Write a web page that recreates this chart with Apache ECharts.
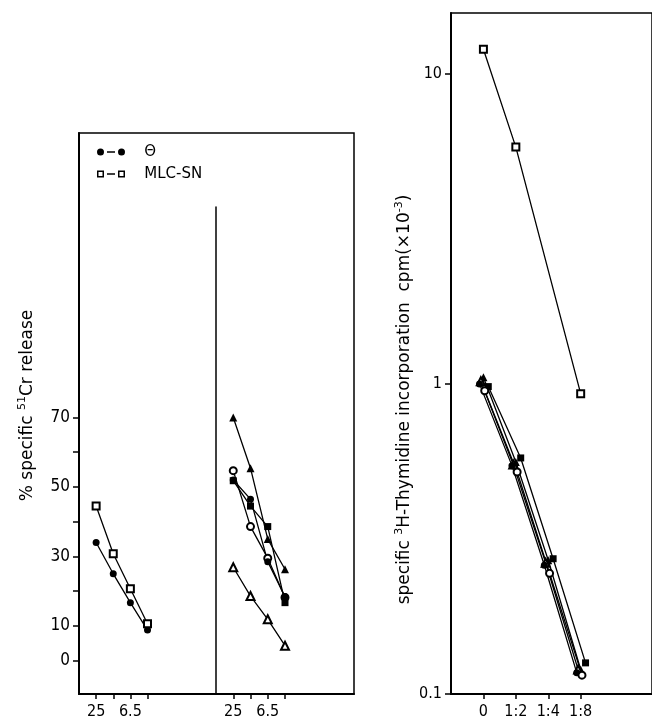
<!DOCTYPE html>
<html>
<head>
<meta charset="utf-8">
<script src="https://cdn.jsdelivr.net/npm/echarts@6/dist/echarts.min.js"></script>
<style>
  html, body { margin: 0; padding: 0; background: #fff; }
  #chart { width: 652px; height: 721px; }
</style>
</head>
<body>
<div id="chart"></div>
<script>
// E:T ratios (left panels) and dilutions (right panel)
const ratios = ['25', '12.5', '6.5', '3.1'];
const ratioLabelIdx = [0, 2];
const dilutions = ['0', '1:2', '1:4', '1:8'];
const crTicks = [0, 10, 20, 30, 40, 50, 60, 70];
const crLabels = [0, 10, 30, 50, 70];

// panel A: % specific 51Cr release
const thetaA = [34, 25, 16.7, 8.8];
const mlcA = [44.5, 30.8, 20.7, 10.6];

// panel B
const filledTriB = [70, 55.4, 35, 26.3];
const openCircB = [54.7, 38.6, 29.5, 18.2];
const filledSqB = [51.8, 44.5, 38.6, 16.7];
const filledCircB = [52, 46.5, 28.5, 18.4];
const openTriB = [26.9, 18.6, 11.9, 4.3];

// panel C: 3H-thymidine cpm (x10^-3)
const mlcC = [12, 5.8, null, 0.93];
const filledSqC = [0.98, 0.577, 0.273, 0.126];
const filledTriC = [1.05, 0.56, 0.27, 0.12];
const openTriC = [1.02, 0.55, 0.265, 0.12];
const filledCircC = [1.0, 0.545, 0.26, 0.117];
const openCircC = [0.95, 0.52, 0.245, 0.115];

const FONT = '"DejaVu Sans Condensed", "DejaVu Sans", sans-serif';
const WIDE = '"DejaVu Sans", sans-serif';
const BLACK = '#000';

function line(name, vals, symbol, grid, shift, size) {
    const data = [];
    vals.forEach((v, i) => { if (v != null) data.push([i + (shift || 0), v]); });
    return {
        name: name,
        type: 'line',
        xAxisIndex: grid,
        yAxisIndex: grid,
        data: data,
        symbol: symbol,
        symbolSize: size || 7,
        showSymbol: true,
        color: BLACK,
        itemStyle: { color: BLACK, borderWidth: 1.5 },
        lineStyle: { color: BLACK, width: 1.3 },
        z: 3
    };
}

function ratioAxis(grid) {
    return {
        gridIndex: grid, type: 'value', min: -1, max: 7,
        splitLine: { show: false },
        axisLine: { onZero: false, lineStyle: { color: BLACK, width: 2 } },
        axisTick: { customValues: [0, 1, 2, 3], length: 5, lineStyle: { color: BLACK, width: 1.5 } },
        axisLabel: {
            customValues: ratioLabelIdx, formatter: v => ratios[v],
            color: BLACK, fontSize: 16, fontFamily: FONT, margin: 10
        }
    };
}

const supStyle = { fontSize: 11, lineHeight: 8, verticalAlign: 'top', fontFamily: WIDE, color: BLACK };

const filledDots = 'path://M0,4A3.5,3.5 0 1,0 7,4A3.5,3.5 0 1,0 0,4Z M10,3.3H18V4.7H10Z M21,4A3.5,3.5 0 1,0 28,4A3.5,3.5 0 1,0 21,4Z';
const openSquares = 'path://M0,0.5H7V7.5H0Z M1.5,2V6H5.5V2Z M10,3.3H18V4.7H10Z M21,0.5H28V7.5H21Z M22.5,2V6H26.5V2Z';

const chart = echarts.init(document.getElementById('chart'));
chart.setOption({
    animation: false,
    backgroundColor: '#fff',
    textStyle: { fontFamily: FONT },
    legend: {
        data: [{ name: 'Θ', icon: filledDots }, { name: 'MLC-SN', icon: openSquares }],
        orient: 'vertical', left: 92, top: 139,
        itemWidth: 28, itemHeight: 8, itemGap: 6,
        selectedMode: false,
        itemStyle: { color: BLACK, borderWidth: 0 },
        formatter: n => '   ' + n,
        textStyle: { color: BLACK, fontSize: 15, fontFamily: WIDE, lineHeight: 16 }
    },
    grid: [
        { left: 79, top: 133, width: 137, height: 561 },
        { left: 216, top: 207, width: 138, height: 487 },
        { left: 79, top: 133, width: 275, height: 561, show: true, borderColor: BLACK, borderWidth: 1.5 },
        { left: 451, top: 13, right: -10, bottom: 27, show: true, borderColor: BLACK, borderWidth: 1.5 }
    ],
    xAxis: [
        ratioAxis(0),
        ratioAxis(1),
        { gridIndex: 2, type: 'value', show: false },
        {
            gridIndex: 3, type: 'value', min: -1, max: 5.2,
            splitLine: { show: false },
            axisLine: { onZero: false, lineStyle: { color: BLACK, width: 2 } },
            axisTick: { customValues: [0, 1, 2, 3], length: 5, lineStyle: { color: BLACK, width: 1.5 } },
            axisLabel: {
                customValues: [0, 1, 2, 3], formatter: v => dilutions[v],
                color: BLACK, fontSize: 16, fontFamily: FONT, margin: 10
            }
        }
    ],
    yAxis: [
        {
            gridIndex: 0, type: 'value', min: -9.6, max: 151.9,
            splitLine: { show: false },
            axisLine: { show: true, onZero: false, lineStyle: { color: BLACK, width: 2 } },
            axisTick: { show: true, customValues: crTicks, length: 6, lineStyle: { color: BLACK, width: 1.5 } },
            axisLabel: { customValues: crLabels, color: BLACK, fontSize: 17, fontFamily: FONT, margin: 9 },
            name: '% specific {sup|51}Cr release',
            nameLocation: 'middle', nameGap: 40,
            nameTextStyle: {
                color: BLACK, fontSize: 17, fontFamily: WIDE, lineHeight: 22,
                padding: [0, 0, 0, 16],
                rich: { sup: supStyle }
            }
        },
        {
            gridIndex: 1, type: 'value', min: -9.6, max: 130.6,
            splitLine: { show: false },
            axisLine: { show: true, onZero: false, lineStyle: { color: BLACK, width: 1.5 } },
            axisTick: { show: false },
            axisLabel: { show: false }
        },
        { gridIndex: 2, type: 'value', show: false },
        {
            gridIndex: 3, type: 'log', logBase: 10, min: 0.1, max: 15.7,
            splitLine: { show: false },
            axisLine: { show: true, onZero: false, lineStyle: { color: BLACK, width: 2 } },
            axisTick: { show: true, length: 6, lineStyle: { color: BLACK, width: 1.5 } },
            axisLabel: { showMaxLabel: false, color: BLACK, fontSize: 16, fontFamily: FONT, margin: 9 },
            name: 'specific {sup|3}H-Thymidine incorporation  cpm(×10{sup|-3})',
            nameLocation: 'middle', nameGap: 27,
            nameTextStyle: {
                color: BLACK, fontSize: 17, fontFamily: WIDE, lineHeight: 22,
                padding: [0, 92, 0, 0],
                rich: { sup: supStyle }
            }
        }
    ],
    series: [
        line('Θ', thetaA, 'circle', 0),
        line('MLC-SN', mlcA, 'emptyRect', 0),

        line('B ▲', filledTriB, 'triangle', 1, 0, 8),
        line('B ○', openCircB, 'emptyCircle', 1),
        line('B ■', filledSqB, 'rect', 1),
        line('B ●', filledCircB, 'circle', 1),
        line('B △', openTriB, 'emptyTriangle', 1, 0, 8),

        line('MLC-SN', mlcC, 'emptyRect', 3),
        line('C ■', filledSqC, 'rect', 3, 0.15),
        line('C ▲', filledTriC, 'triangle', 3, 0, 8),
        line('C △', openTriC, 'emptyTriangle', 3, -0.08, 8),
        line('C ●', filledCircC, 'circle', 3, -0.12),
        line('C ○', openCircC, 'emptyCircle', 3, 0.04)
    ]
});
</script>
</body>
</html>
